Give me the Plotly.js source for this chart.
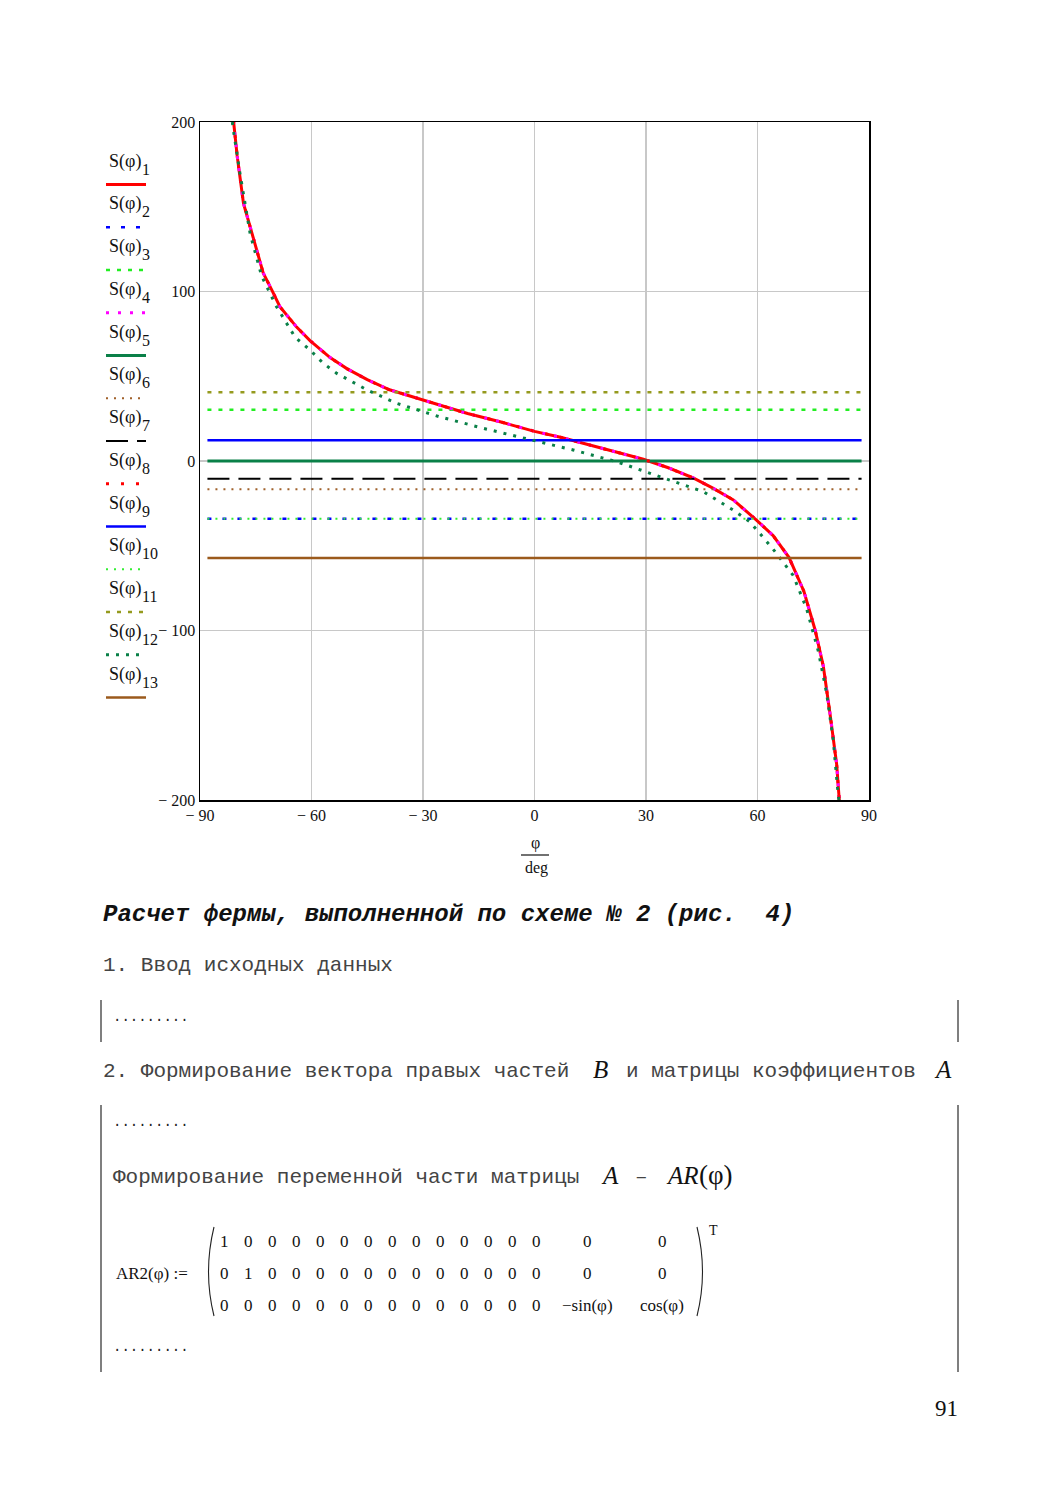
<!DOCTYPE html>
<html>
<head>
<meta charset="utf-8">
<script src="https://cdn.plot.ly/plotly-3.0.1.min.js"></script>
<style>html,body{margin:0;padding:0;background:#fff;}#chart{width:1060px;height:1500px;}</style>
</head>
<body>
<div id="chart"></div>
<script>
// ---------- DATA ----------
const phiCurve = [-81, -80, -78.3, -76.5, -74.7, -73, -70.7, -68.5, -64, -60.4, -55, -50.5, -45, -39, -30, -18, -9, 0, 7, 18.5, 29.3, 36, 42.7, 48, 53.5, 59.8, 64.2, 68.5, 72.5, 75.5, 77.7, 79.5, 81.3, 82];
const S1 = [201, 180, 152, 138, 124.5, 111, 101, 91, 79, 71, 61, 54.5, 48, 42, 36, 28, 23, 17.5, 14, 7.5, 1, -4, -10, -16, -23, -35, -44, -57, -77, -99.7, -121, -149, -179, -200];
const S4 = S1.slice();
const S8 = S1.slice();
const phiS12 = [-81.3, -81, -79.2, -76.5, -73.4, -69.4, -64.4, -60.4, -56.8, -53.2, -45.1, -37.1, -25.4, -13.8, 0, 10.4, 22.1, 33.8, 45.4, 53.5, 58, 64.2, 69.6, 73.2, 76.4, 78.6, 80.4, 81.5, 81.9];
const S12 = [200, 195, 169, 134, 109, 91, 73, 65.5, 57.6, 51.7, 42, 34, 26, 19.3, 12, 6.5, -0.4, -9.3, -18.1, -29, -36, -52, -67.5, -87, -112.5, -137, -165, -192, -200];
const phiLevel = [-88, 88];
const S2 = [-34, -34];
const S3 = [30.3, 30.3];
const S5 = [0, 0];
const S6 = [-16.7, -16.7];
const S7 = [-10.4, -10.4];
const S9 = [12.2, 12.2];
const S10 = [-34, -34];
const S11 = [40.5, 40.5];
const S13 = [-57.2, -57.2];

const xTickVals = [-90, -60, -30, 0, 30, 60, 90];
const xTickText = ['− 90', '− 60', '− 30', '0', '30', '60', '90'];
const yTickVals = [-200, -100, 0, 100, 200];
const yTickText = ['− 200', '− 100', '0', '100', '200'];

const seriesNames = ['1','2','3','4','5','6','7','8','9','10','11','12','13'];
const seriesX = [phiCurve, phiLevel, phiLevel, phiCurve, phiLevel, phiLevel, phiLevel, phiCurve, phiLevel, phiLevel, phiLevel, phiS12, phiLevel];
const seriesY = [S1, S2, S3, S4, S5, S6, S7, S8, S9, S10, S11, S12, S13];

const matrixRows = [
  ['1','0','0','0','0','0','0','0','0','0','0','0','0','0','0','0'],
  ['0','1','0','0','0','0','0','0','0','0','0','0','0','0','0','0'],
  ['0','0','0','0','0','0','0','0','0','0','0','0','0','0','−sin(φ)','cos(φ)']
];

// ---------- STYLES ----------
const colors = ['#ff0000','#0000ff','#22ee22','#ff00ff','#0a8048','#a0602a','#000000','#ff0000','#0000ff','#33ee33','#959a1e','#0a8048','#9b5a1c'];
const dashes = ['solid','4px,11px','4px,7px','3px,9px','solid','2px,6px','22px,9px','3px,12px','solid','2px,6px','4px,7px','3px,7px','solid'];
const widths = [3, 2.5, 2.5, 3, 3, 2, 2, 3, 2.5, 2, 2.5, 3, 2.5];

const SERIF = 'Liberation Serif, Times New Roman, serif';
const MONO = 'Liberation Mono, Courier New, monospace';

const L = 200, T = 122, W = 669, H = 678;
const xp = px => (px - L) / W;
const yp = py => (T + H - py) / H;

const traces = seriesY.map((ys, i) => ({
  type: 'scatter', mode: 'lines', x: seriesX[i], y: ys,
  name: 'S(φ)' + seriesNames[i],
  line: {color: colors[i], dash: dashes[i], width: widths[i]},
  hoverinfo: 'skip'
}));

const annotations = [];
const shapes = [];
function txt(px, py, text, opts) {
  opts = opts || {};
  annotations.push({
    xref: 'paper', yref: 'paper', x: xp(px), y: yp(py), text: text, showarrow: false,
    xanchor: opts.xa || 'left', yanchor: 'middle',
    font: Object.assign({family: SERIF, size: 17, color: '#111'}, opts.font || {})
  });
}
function seg(x0, y0, x1, y1, color, width, dash) {
  shapes.push({type: 'line', xref: 'paper', yref: 'paper', x0: xp(x0), y0: yp(y0), x1: xp(x1), y1: yp(y1),
    line: {color: color, width: width, dash: dash || 'solid'}});
}

// legend (Mathcad style: label above, line sample below)
seriesNames.forEach((n, i) => {
  const yt = 161 + 42.75 * i;
  txt(107, yt, 'S(φ)', {font: {size: 18}});
  txt(140, yt + 8, n, {font: {size: 16}});
  seg(106, yt + 23.5, 146, yt + 23.5, colors[i], widths[i], dashes[i]);
});

// x axis title as fraction
txt(535, 843, 'φ', {xa: 'center', font: {size: 16}});
seg(521, 855, 549, 855, '#111', 1.2);
txt(536, 868, 'deg', {xa: 'center', font: {size: 16}});

// page text
const dots = '.........';
txt(101, 914, 'Расчет фермы, выполненной по схеме № 2 (рис.  4)', {font: {family: MONO, size: 24, color: '#111', weight: 'bold', style: 'italic'}});
txt(101, 965, '1. Ввод исходных данных', {font: {family: MONO, size: 21, color: '#444'}});
seg(101, 1000, 101, 1042, '#555', 1.5);
seg(958, 1000, 958, 1042, '#555', 1.5);
txt(111, 1017, dots, {font: {family: MONO, size: 14, color: '#222'}});
txt(101, 1071, '2. Формирование вектора правых частей', {font: {family: MONO, size: 21, color: '#444'}});
txt(600, 1069, '<i>B</i>', {xa: 'center', font: {size: 25}});
txt(624, 1071, 'и матрицы коэффициентов', {font: {family: MONO, size: 21, color: '#444'}});
txt(943, 1069, '<i>A</i>', {xa: 'center', font: {size: 25}});
seg(101, 1105, 101, 1372, '#555', 1.5);
seg(958, 1105, 958, 1372, '#555', 1.5);
txt(111, 1122, dots, {font: {family: MONO, size: 14, color: '#222'}});
txt(111, 1177, 'Формирование переменной части матрицы', {font: {family: MONO, size: 21, color: '#444'}});
txt(610, 1175, '<i>A</i>', {xa: 'center', font: {size: 25}});
txt(641, 1177, '–', {xa: 'center', font: {family: MONO, size: 21, color: '#444'}});
txt(664, 1175, '<i>AR</i>', {font: {size: 25}});
txt(697, 1175, '(φ)', {font: {size: 27}});

txt(114, 1273, 'AR2(φ) :=', {font: {size: 17}});
matrixRows.forEach((row, r) => {
  row.forEach((v, c) => {
    const cx = c < 14 ? 224 + 24 * c : (c === 14 ? 587 : 662);
    txt(cx, 1241 + 32 * r, v, {xa: 'center', font: {size: 17}});
  });
});
shapes.push({type: 'path', xref: 'paper', yref: 'paper',
  path: `M ${xp(214)},${yp(1227)} Q ${xp(203)},${yp(1272)} ${xp(214)},${yp(1316)}`,
  line: {color: '#222', width: 1.1}});
shapes.push({type: 'path', xref: 'paper', yref: 'paper',
  path: `M ${xp(697)},${yp(1227)} Q ${xp(708)},${yp(1272)} ${xp(697)},${yp(1316)}`,
  line: {color: '#222', width: 1.1}});
txt(707, 1230, 'T', {font: {size: 14}});
txt(111, 1347, dots, {font: {family: MONO, size: 14, color: '#222'}});
txt(946, 1408, '91', {xa: 'center', font: {size: 23}});

const axisCommon = {
  showline: true, mirror: true, linecolor: '#000', linewidth: 1.5,
  showgrid: true, gridcolor: '#c8c8c8', gridwidth: 1.5,
  zeroline: false, ticks: '', tickfont: {family: SERIF, size: 16, color: '#111'}, fixedrange: true
};

const layout = {
  width: 1060, height: 1500,
  margin: {l: L, r: 1060 - L - W, t: T, b: 1500 - T - H},
  paper_bgcolor: '#fff', plot_bgcolor: '#fff',
  showlegend: false,
  xaxis: Object.assign({}, axisCommon, {range: [-90, 90], tickmode: 'array', tickvals: xTickVals, ticktext: xTickText}),
  yaxis: Object.assign({}, axisCommon, {range: [-200, 200], tickmode: 'array', tickvals: yTickVals, ticktext: yTickText, ticklabelstandoff: 0}),
  annotations: annotations,
  shapes: shapes
};

Plotly.newPlot('chart', traces, layout, {displayModeBar: false, staticPlot: true});
</script>
</body>
</html>
